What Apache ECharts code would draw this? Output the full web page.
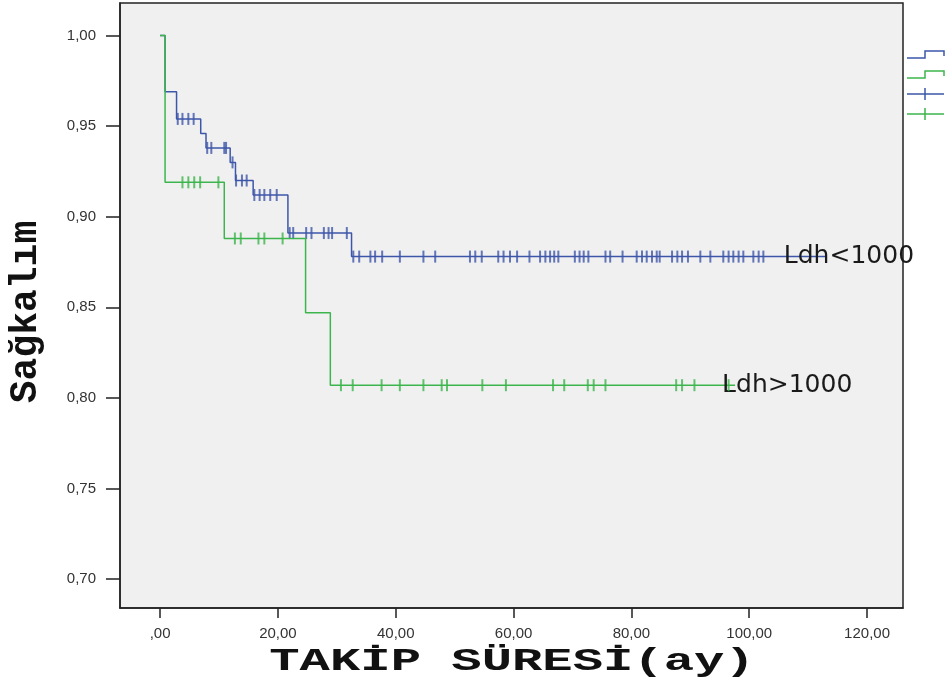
<!DOCTYPE html>
<html>
<head>
<meta charset="utf-8">
<script src="https://cdn.jsdelivr.net/npm/echarts@6/dist/echarts.min.js"></script>
<style>
  html, body { margin: 0; padding: 0; background: #ffffff; }
  #chart { width: 946px; height: 686px; }
</style>
</head>
<body>
<div id="chart"></div>
<script>
// Kaplan–Meier survival by LDH group (time in months)
const xTicks = [0, 20, 40, 60, 80, 100, 120];
const yTicks = [0.70, 0.75, 0.80, 0.85, 0.90, 0.95, 1.00];

// Ldh<1000: step times and survival after each step
const lowTimes = [0, 0.85, 2.8, 6.9, 7.8, 11.9, 12.8, 15.8, 21.7, 32.5, 113.0];
const lowSurv  = [1.000, 0.969, 0.954, 0.946, 0.938, 0.930, 0.920, 0.912, 0.891, 0.878, 0.878];
// Ldh<1000: censored observations
const lowCensored = [3.0, 3.8, 4.8, 5.7, 8.0, 8.7, 10.9, 11.2, 12.3, 12.9, 13.9, 14.7,
  16.0, 16.9, 17.7, 18.7, 19.8, 22.0, 22.6, 24.8, 25.7, 27.8, 28.6, 29.2, 31.7,
  32.8, 33.8, 35.7, 36.5, 37.7, 40.7, 44.7, 46.7, 52.6, 53.5, 54.6, 57.4, 58.3, 59.4,
  60.6, 62.7, 64.5, 65.4, 66.2, 66.9, 67.6, 70.4, 71.2, 71.9, 72.7, 75.6, 76.4, 78.5,
  80.9, 81.8, 82.6, 83.5, 84.3, 84.8, 86.9, 87.8, 88.6, 89.6, 91.7, 93.4, 95.6, 96.5,
  97.3, 98.2, 99.0, 100.7, 101.6, 102.4];

// Ldh>1000: step times and survival after each step
const highTimes = [0, 0.85, 10.9, 24.7, 28.9, 97.6];
const highSurv  = [1.000, 0.919, 0.888, 0.847, 0.807, 0.807];
// Ldh>1000: censored observations
const highCensored = [3.8, 4.8, 5.8, 6.8, 9.9, 12.7, 13.7, 16.7, 17.7, 20.8,
  30.7, 32.7, 37.6, 40.7, 44.7, 47.8, 48.7, 54.7, 58.7, 66.7, 68.6, 72.6, 73.6, 75.6,
  87.6, 88.6, 90.7, 96.5];

const BLUE = '#3d56a9';
const GREEN = '#3cb54c';

function survivalAt(times, surv, t) {
  let s = surv[0];
  for (let i = 0; i < times.length; i++) { if (times[i] <= t) s = surv[i]; }
  return s;
}
const stepPoints = (times, surv) => times.map((t, i) => [t, surv[i]]);
const censorPoints = (cens, times, surv) => cens.map(t => [t, survivalAt(times, surv, t)]);
const fmt = v => (Math.abs(v) < 1e-9 ? ',00' : v.toFixed(2).replace('.', ','));

const chart = echarts.init(document.getElementById('chart'), null, { renderer: 'canvas' });

// Legend keys at the right edge (step line and censor mark per group)
function stepIcon(y, color) {
  return { type: 'polyline', shape: { points: [[907, y + 4], [925, y + 4], [925, y - 3], [944, y - 3], [944, y + 2]] },
           style: { stroke: color, lineWidth: 1.5, fill: null } };
}
function plusIcon(y, color) {
  return { type: 'group', children: [
    { type: 'line', shape: { x1: 907, y1: y, x2: 944, y2: y }, style: { stroke: color, lineWidth: 1.5 } },
    { type: 'line', shape: { x1: 925, y1: y - 6, x2: 925, y2: y + 6 }, style: { stroke: color, lineWidth: 1.5 } }
  ] };
}

const graphics = [
  stepIcon(54, BLUE), stepIcon(74, GREEN), plusIcon(94, BLUE), plusIcon(114, GREEN),
  // axis titles
  { type: 'text', x: 512, y: 662, scaleX: 1.58,
    style: { text: 'TAKİP SÜRESİ(ay)', font: 'bold 32px "Liberation Mono"', fill: '#111',
             align: 'center', verticalAlign: 'middle' } },
  { type: 'text', x: 26, y: 312, rotation: Math.PI / 2,
    style: { text: 'Sağkalım', font: 'bold 38px "Liberation Mono"', fill: '#111',
             align: 'center', verticalAlign: 'middle' } }
];

const endLabelStyle = (dist) => ({
  show: true, formatter: '{a}', distance: dist, fontSize: 25,
  fontFamily: 'DejaVu Sans', color: '#1a1a1a'
});

chart.setOption({
  animation: false,
  backgroundColor: '#ffffff',
  grid: {
    left: 120, right: 43, top: 3, bottom: 78, outerBoundsMode: 'none',
    show: true, backgroundColor: '#f0f0f0', borderColor: '#222', borderWidth: 1.5
  },
  xAxis: {
    type: 'value', min: -6.8, max: 126.1,
    axisLine: { show: true, onZero: false, lineStyle: { color: '#222', width: 1.5 } },
    axisTick: { show: true, customValues: xTicks, length: 10, lineStyle: { color: '#222', width: 1.5 } },
    axisLabel: { customValues: xTicks, formatter: fmt, fontSize: 15, color: '#333',
                 fontFamily: 'Liberation Sans', margin: 18 },
    splitLine: { show: false }
  },
  yAxis: {
    type: 'value', min: 0.684, max: 1.018,
    axisLine: { show: true, onZero: false, lineStyle: { color: '#222', width: 1.5 } },
    axisTick: { show: true, customValues: yTicks, length: 14, lineStyle: { color: '#222', width: 1.5 } },
    axisLabel: { customValues: yTicks, formatter: fmt, fontSize: 15, color: '#333',
                 fontFamily: 'Liberation Sans', margin: 24 },
    splitLine: { show: false }
  },
  graphic: graphics,
  series: [
    {
      name: 'Ldh<1000', type: 'line', step: 'end', showSymbol: false,
      data: stepPoints(lowTimes, lowSurv),
      lineStyle: { color: BLUE, width: 1.5 }, itemStyle: { color: BLUE },
      endLabel: endLabelStyle(-42), z: 3
    },
    {
      name: 'Ldh>1000', type: 'line', step: 'end', showSymbol: false,
      data: stepPoints(highTimes, highSurv),
      lineStyle: { color: GREEN, width: 1.5 }, itemStyle: { color: GREEN },
      endLabel: endLabelStyle(-13), z: 4
    },
    {
      name: 'Ldh<1000 sansürlü', type: 'scatter', symbol: 'rect', symbolSize: [2, 12],
      data: censorPoints(lowCensored, lowTimes, lowSurv),
      itemStyle: { color: BLUE }, z: 3
    },
    {
      name: 'Ldh>1000 sansürlü', type: 'scatter', symbol: 'rect', symbolSize: [2, 12],
      data: censorPoints(highCensored, highTimes, highSurv),
      itemStyle: { color: GREEN }, z: 4
    }
  ]
});
</script>
</body>
</html>
